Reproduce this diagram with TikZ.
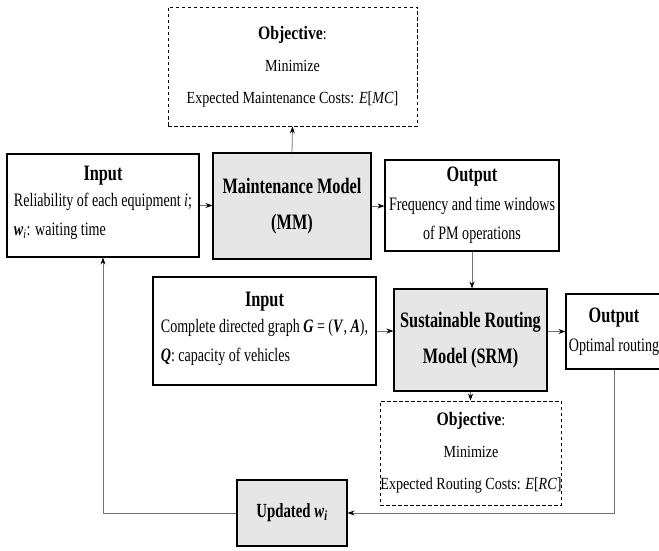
\documentclass[tikz,border=0pt]{standalone}
\usepackage{fontspec}
\setmainfont[FakeStretch=0.74]{Liberation Serif}
\newfontfamily\objfont[FakeStretch=0.83]{Liberation Serif}
\usetikzlibrary{arrows.meta,positioning}

\definecolor{modelgray}{RGB}{230,230,230}
\definecolor{linegray}{RGB}{115,115,115}

\newcommand{\boxhead}[1]{{\fontsize{22}{26}\selectfont\bfseries #1}}
\newcommand{\wi}{{\bfseries\itshape w}\textsubscript{\itshape i}}

\begin{document}
\begin{tikzpicture}[
  x=1pt, y=-1pt,
  box/.style={rectangle, draw, line width=1.1pt, align=center, inner sep=0pt, font=\fontsize{19}{29}\selectfont},
  modelbox/.style={box, fill=modelgray, font=\fontsize{22}{36}\selectfont\bfseries},
  objbox/.style={rectangle, draw, line width=0.9pt, dash pattern=on 3.5pt off 2.5pt, align=center, inner sep=0pt, font=\objfont\fontsize{17}{32}\selectfont},
  arrow/.style={-{Stealth[length=7pt,width=5pt,color=black]}, draw=linegray, line width=0.8pt}
]
\useasboundingbox (0,0) rectangle (659,551);

% maintenance side
\node[objbox, minimum width=249pt, minimum height=119pt] (obj1) at (292.5,66.5) {
{\bfseries\fontsize{19}{22}\selectfont Objective}:\\
Minimize\\
Expected Maintenance Costs: \textit{E}[\textit{MC}]
};
\node[box, minimum width=192pt, minimum height=103pt] (in1) at (103,205.5) {
\boxhead{Input}\\
\begin{tabular}{@{}l@{}}
Reliability of each equipment \textit{i};\\
\wi: waiting time
\end{tabular}
};
\node[modelbox, minimum width=158pt, minimum height=106pt] (mm) at (292,206) {Maintenance Model\\(MM)};
\node[box, minimum width=174pt, minimum height=91pt] (out1) at (472,205.5) {
\boxhead{Output}\\
Frequency and time windows\\
of PM operations
};

% routing side
\node[box, minimum width=223pt, minimum height=108pt] (in2) at (264.5,331) {
\boxhead{Input}\\
\begin{tabular}{@{}l@{}}
Complete directed graph \textbf{\textit{G}} = (\textbf{\textit{V}}, \textbf{\textit{A}}),\\
\textbf{\textit{Q}}: capacity of vehicles
\end{tabular}
};
\node[modelbox, minimum width=153pt, minimum height=102pt] (srm) at (470.5,340) {Sustainable Routing\\Model (SRM)};
\node[box, minimum width=96pt, minimum height=75pt] (out2) at (614,331.5) {
\boxhead{Output}\\
Optimal routing
};
\node[objbox, minimum width=180pt, minimum height=104pt] (obj2) at (471,453) {
{\bfseries\fontsize{19}{22}\selectfont Objective}:\\
Minimize\\
Expected Routing Costs: \textit{E}[\textit{RC}]
};
\node[modelbox, font=\fontsize{20}{24}\selectfont\bfseries, minimum width=110pt, minimum height=66pt] (upd) at (292,513) {Updated \textit{w}\textsubscript{\textit{i}}};

% connectors
\draw[arrow] (in1.east) -- (in1.east -| mm.west);
\draw[arrow] (mm.east) -- (mm.east -| out1.west);
\draw[arrow] (mm.north) -- (obj1.south);
\draw[arrow] (out1.south) -- (out1.south |- srm.north);
\draw[arrow] (in2.east) -- (in2.east -| srm.west);
\draw[arrow] (srm.east |- out2.west) -- (out2.west);
\draw[arrow] (srm.south) -- (srm.south |- obj2.north);
\draw[arrow] (out2.south) |- (upd.east);
\draw[arrow] (upd.west) -| (in1.south);

\end{tikzpicture}
\end{document}
